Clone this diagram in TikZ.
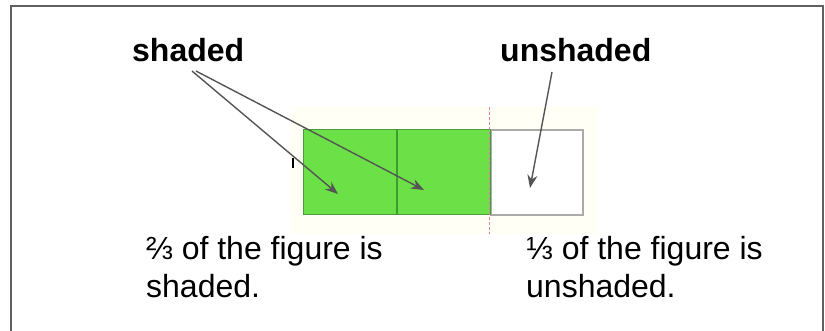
\documentclass[tikz,border=0pt]{standalone}
\usepackage{fontspec}
\setmainfont{Liberation Sans}
\usetikzlibrary{arrows.meta}
\definecolor{frame}{HTML}{606060}
\definecolor{cellgreen}{HTML}{6CE047}
\definecolor{greenedge}{HTML}{4C9A3C}
\definecolor{divgreen}{HTML}{3F9A30}
\definecolor{whiteedge}{HTML}{ABABAB}
\definecolor{arrowgray}{HTML}{555555}
\definecolor{pinkdash}{HTML}{E07FA6}
\definecolor{cream}{HTML}{FFFFF5}
\tikzset{
  boldlabel/.style={font=\fontsize{32}{38}\selectfont\bfseries, inner sep=0pt, anchor=base west},
  plainlabel/.style={font=\fontsize{32}{38}\selectfont, inner sep=0pt, anchor=base west},
  pointer/.style={draw=arrowgray, line width=1.4pt, -{Stealth[length=13pt,width=10pt]}},
  greencell/.style={fill=cellgreen, draw=greenedge, line width=1.2pt},
  whitecell/.style={fill=white, draw=whiteedge, line width=1.5pt}
}
\begin{document}
\begin{tikzpicture}[x=1pt,y=-1pt]
\useasboundingbox (0,0) rectangle (825,330);
% outer frame, open at the bottom
\draw[frame, line width=2pt] (11,332) -- (11,6) -- (823,6) -- (823,332);
% faint background of the figure
\fill[cream] (291,107) rectangle (598,234);
% cells
\node[whitecell, minimum width=92pt, minimum height=85pt, inner sep=0pt, anchor=north west] (c3) at (490,129) {};
\node[greencell, minimum width=187pt, minimum height=85pt, inner sep=0pt, anchor=north west] (g) at (303,129) {};
\coordinate (dtop) at (397,129);
\coordinate (dbot) at (397,214);
\draw[divgreen, line width=1.5pt] (dtop) -- (dbot);
% pink dashed guide
\coordinate (ptop) at (489,107);
\coordinate (pbot) at (489,234);
\draw[pinkdash, line width=0.9pt, dash pattern=on 3pt off 2pt] (ptop) -- (pbot);
% small black tick
\coordinate (ktop) at (293,158);
\coordinate (kbot) at (293,168);
\draw[black, line width=2.8pt] (ktop) -- (kbot);
% labels
\node[boldlabel] (sh) at (132,61) {shaded};
\node[boldlabel] (un) at (500,61) {unshaded};
\node[plainlabel] (l1) at (146,259) {⅔ of the figure is};
\node[plainlabel] (l2) at (146,297) {shaded.};
\node[plainlabel] (r1) at (526,259) {⅓ of the figure is};
\node[plainlabel] (r2) at (526,297) {unshaded.};
% arrow ends
\coordinate (s1) at (192,71);
\coordinate (s2) at (196,71);
\coordinate (u0) at (552,72);
\coordinate (t1) at (338,194);
\coordinate (t2) at (424,190);
\coordinate (t3) at (530,188);
\draw[pointer] (s1) -- (t1);
\draw[pointer] (s2) -- (t2);
\draw[pointer] (u0) -- (t3);
\end{tikzpicture}
\end{document}
